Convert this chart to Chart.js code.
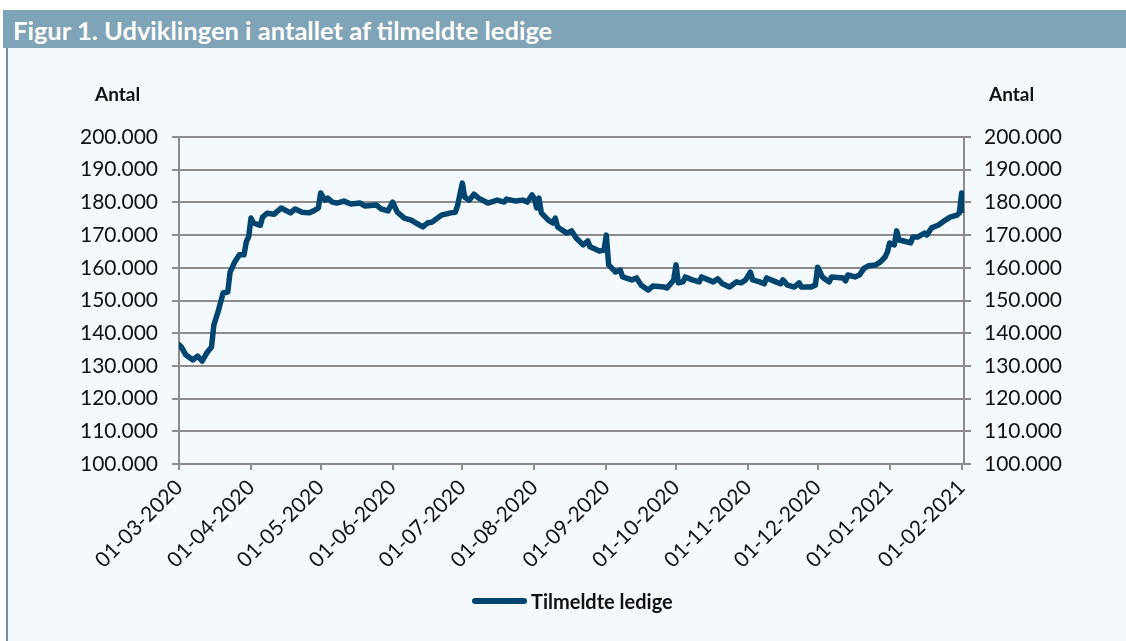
<!DOCTYPE html>
<html>
<head>
<meta charset="utf-8">
<script src="https://cdn.jsdelivr.net/npm/chart.js@4.4.1/dist/chart.umd.min.js"></script>
<style>
  html, body { margin: 0; padding: 0; background: #ffffff; }
  body { width: 1126px; height: 641px; position: relative; overflow: hidden; font-family: Lato, "Open Sans", sans-serif; }
  #bar { position: absolute; left: 3px; top: 10px; width: 1123px; height: 38px; background: #7fa3b7; }
  #title { position: absolute; left: 13px; top: 11px; height: 38px; line-height: 38px; color: #ffffff; font-weight: 700; font-size: 25.5px; white-space: nowrap; }
  #panel { position: absolute; left: 6px; top: 48px; width: 1120px; height: 593px; background: #f4f9fd; border-left: 2px solid #6f8fa3; box-sizing: border-box; }
  .axtitle { position: absolute; top: 82px; font-weight: 700; font-size: 19px; color: #111; white-space: nowrap; }
  #wrap { position: absolute; left: 0; top: 0; width: 1126px; height: 641px; }
  #legend { position: absolute; top: 589px; left: 472px; height: 24px; display: flex; align-items: center; font-weight: 700; font-size: 20px; color: #111; white-space: nowrap; }
  #legend .swatch { width: 55px; height: 6px; border-radius: 3px; background: #004570; margin-right: 4px; }
</style>
</head>
<body>
<div id="bar"></div>
<div id="title">Figur 1. Udviklingen i antallet af tilmeldte ledige</div>
<div id="panel"></div>
<div id="wrap"><canvas id="c"></canvas></div>
<div class="axtitle" style="left:95px;">Antal</div>
<div class="axtitle" style="left:989px;">Antal</div>
<div id="legend"><span class="swatch"></span><span>Tilmeldte ledige</span></div>
<script>
// Days since 01-03-2020
const days = [0,1,3,6,8,10,12,14,15,17,19,21,22,24,26,28,29,30,31,32,35,36,38,41,44,48,50,53,56,58,60,61,62,63,64,66,68,71,74,78,80,85,87,90,92,94,97,100,102,105,107,109,113,117,119,120,122,123,125,127,129,133,137,140,141,145,148,150,152,153,154,155,156,159,161,162,163,167,169,171,174,176,177,181,183,184,185,188,190,191,195,197,199,202,204,209,210,212,213,214,215,217,218,221,224,225,228,230,232,234,237,240,242,244,246,247,250,252,253,257,259,260,262,265,267,268,272,274,275,277,278,280,281,286,287,288,291,293,295,297,300,302,304,305,306,308,309,310,312,315,316,318,321,322,324,326,327,330,332,335,336,337,338];
const values = [136500,135800,133300,131800,133000,131500,134000,135800,142500,147000,152300,152600,158700,161800,164000,164000,168000,169500,175200,173700,173000,175500,176700,176400,178300,176800,178000,177000,176800,177400,178300,182900,181600,180700,181300,180100,179800,180400,179500,179800,178900,179200,178000,177400,180100,177000,175200,174600,173700,172500,173700,174000,176100,176800,177000,179200,185900,181600,180700,182500,181300,179800,180700,180100,181000,180400,180700,180100,182300,181200,178300,181300,176800,174600,173700,175200,172500,170600,171300,169100,167000,168200,166400,165100,165400,170000,160900,158700,159300,157200,156300,156900,154700,153200,154400,154100,153800,155400,156300,160900,155400,155700,157200,156300,155700,157200,156300,155700,156600,155100,154100,155700,155400,156300,158700,156300,155700,155100,156900,155700,155100,156300,154700,154100,155400,154100,154100,154700,160200,157200,156600,155700,157200,156900,156000,157800,157200,157800,159900,160600,160900,161800,163300,164800,167600,167000,171300,168500,168200,167600,169400,169400,170600,170000,172200,172800,173100,174600,175500,176100,176800,182900,177500];
// Month-start tick positions (days since 01-03-2020) and labels
const tickDays = [0,31,61,92,122,153,184,214,245,275,306,337];
const tickLabels = ['01-03-2020','01-04-2020','01-05-2020','01-06-2020','01-07-2020','01-08-2020','01-09-2020','01-10-2020','01-11-2020','01-12-2020','01-01-2021','01-02-2021'];
const seriesName = 'Tilmeldte ledige';

const fmt = v => String(v).replace(/\B(?=(\d{3})+(?!\d))/g, '.');
const gridColor = '#8c8c8c';
const fontFam = 'Lato, "Open Sans", sans-serif';

new Chart(document.getElementById('c'), {
  type: 'line',
  data: {
    datasets: [{
      label: seriesName,
      data: days.map((d, i) => ({ x: d, y: values[i] })),
      borderColor: '#004570',
      backgroundColor: '#004570',
      borderWidth: 5.5,
      pointRadius: 0,
      tension: 0,
      borderJoinStyle: 'round',
      borderCapStyle: 'round',
      yAxisID: 'y'
    }]
  },
  options: {
    responsive: true,
    maintainAspectRatio: false,
    animation: false,
    layout: { padding: { top: 137, left: 0, right: 0, bottom: 0 } },
    plugins: { legend: { display: false }, tooltip: { enabled: false } },
    scales: {
      x: {
        type: 'linear', min: 0, max: 338,
        afterBuildTicks: s => { s.ticks = tickDays.map(v => ({ value: v })); },
        afterFit: s => { s.height = 177; },
        ticks: {
          autoSkip: false, minRotation: 45, maxRotation: 45, padding: 5,
          color: '#111', font: { family: fontFam, size: 21 },
          callback: (v, i) => tickLabels[i]
        },
        grid: { drawOnChartArea: false, drawTicks: true, tickLength: 6, color: gridColor, lineWidth: 2 },
        border: { display: true, color: gridColor, width: 2 }
      },
      y: {
        position: 'left', min: 100000, max: 200000,
        afterFit: s => { s.width = 179; },
        ticks: { stepSize: 10000, padding: 14, color: '#111', font: { family: fontFam, size: 21 }, callback: v => fmt(v) },
        grid: { color: gridColor, lineWidth: 2, tickLength: 7 },
        border: { display: true, color: gridColor, width: 2 }
      },
      y2: {
        position: 'right', min: 100000, max: 200000,
        afterFit: s => { s.width = 162; },
        ticks: { stepSize: 10000, padding: 13, color: '#111', font: { family: fontFam, size: 21 }, callback: v => fmt(v) },
        grid: { drawOnChartArea: false, color: gridColor, lineWidth: 2, tickLength: 7 },
        border: { display: true, color: gridColor, width: 2 }
      }
    }
  }
});
</script>
</body>
</html>
